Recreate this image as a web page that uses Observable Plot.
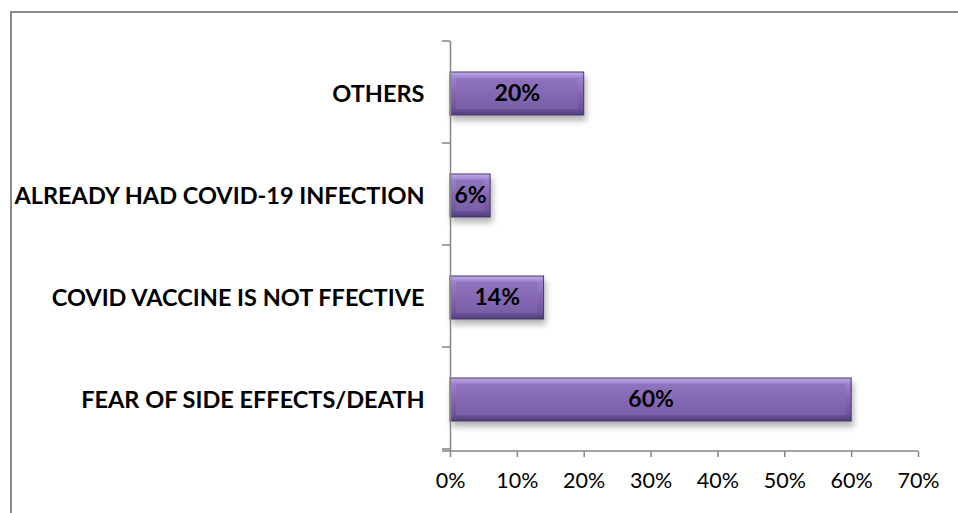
<!DOCTYPE html>
<html><head><meta charset="utf-8">
<script src="https://cdn.jsdelivr.net/npm/d3@7"></script>
<script src="https://cdn.jsdelivr.net/npm/@observablehq/plot@0.6"></script>
<style>
body{margin:0;background:#fff;color:#000}
#wrap{position:relative;width:958px;height:513px;overflow:hidden}
#border{position:absolute;left:10px;top:11px;right:-10px;bottom:-10px;border-left:2px solid #8a8a8a;border-top:2px solid #8a8a8a;pointer-events:none}
</style>
</head><body><div id="wrap"><div id="chart"></div><div id="border"></div></div>
<script>
const categories = ["OTHERS", "ALREADY HAD COVID-19 INFECTION", "COVID VACCINE IS NOT FFECTIVE", "FEAR OF SIDE EFFECTS/DEATH"];
const values = [0.20, 0.06, 0.14, 0.60];
const xTicks = [0, 0.1, 0.2, 0.3, 0.4, 0.5, 0.6, 0.7];

const data = categories.map((c, i) => ({reason: c, value: values[i]}));
const pct = d3.format(".0%");

const chart = Plot.plot({
  width: 958, height: 513,
  marginLeft: 450, marginRight: 40, marginTop: 41, marginBottom: 62,
  style: {fontFamily: "Lato, 'Open Sans', sans-serif", background: "transparent", color: "#000"},
  x: {domain: [0, 0.7], label: null},
  y: {domain: categories, paddingInner: 0.58, paddingOuter: 0.29, label: null},
  marks: [
    Plot.barX(data, {x: "value", y: "reason", fill: "url(#barOuter)", stroke: "#47366b", strokeWidth: 1}),
    Plot.barX(data, {x: "value", y: "reason", fill: "url(#barInner)", insetTop: 6, insetBottom: 6, insetLeft: 6, insetRight: 6}),
    Plot.ruleX([0], {stroke: "#868686", strokeWidth: 1.5}),
    Plot.axisX({ticks: xTicks, tickFormat: pct, tickSize: 6, tickPadding: 15, fontSize: 21.5, stroke: "#868686", strokeWidth: 1.5, fill: "#000"}),
    Plot.axisY({tickSize: 0, tickPadding: 26, fontSize: 23.5, fontWeight: "bold", fill: "#000"}),
    Plot.text(data, {x: d => d.value / 2, y: "reason", text: d => pct(d.value), fontSize: 23, fontWeight: "bold", fill: "#000"})
  ]
});
document.getElementById("chart").append(chart);

// gradients / shadow
const svg = d3.select(chart);
const defs = svg.insert("defs", ":first-child");
const g1 = defs.append("linearGradient").attr("id", "barOuter").attr("x1", 0).attr("y1", 0).attr("x2", 0).attr("y2", 1);
[[0, "#c2aee6"], [0.14, "#9b80cc"], [0.5, "#8466b0"], [0.86, "#6d539a"], [1, "#4f3c78"]]
  .forEach(([o, c]) => g1.append("stop").attr("offset", o).attr("stop-color", c));
const g2 = defs.append("linearGradient").attr("id", "barInner").attr("x1", 0).attr("y1", 0).attr("x2", 0).attr("y2", 1);
[[0, "#9073c0"], [1, "#7b5ea8"]].forEach(([o, c]) => g2.append("stop").attr("offset", o).attr("stop-color", c));
const f = defs.append("filter").attr("id", "shadow").attr("x", "-10%").attr("y", "-20%").attr("width", "130%").attr("height", "160%");
f.append("feDropShadow").attr("dx", 2).attr("dy", 5).attr("stdDeviation", 3).attr("flood-color", "#000").attr("flood-opacity", 0.3);
svg.select("g[aria-label=bar]").attr("filter", "url(#shadow)");

// band boundary ticks and x axis line, from the chart's own scales
const xs = chart.scale("x"), ys = chart.scale("y");
const x0 = xs.apply(0), x1 = xs.apply(0.7);
const bounds = d3.range(categories.length + 1).map(i => ys.range[0] + i * ys.step);
svg.append("g").selectAll("line").data(bounds).join("line")
  .attr("x1", x0 - 8).attr("x2", x0).attr("y1", d => d).attr("y2", d => d)
  .attr("stroke", "#868686").attr("stroke-width", 1.5);
svg.append("line").attr("x1", x0 - 8).attr("x2", x1)
  .attr("y1", ys.range[1]).attr("y2", ys.range[1])
  .attr("stroke", "#868686").attr("stroke-width", 1.5);
</script>
</body></html>
